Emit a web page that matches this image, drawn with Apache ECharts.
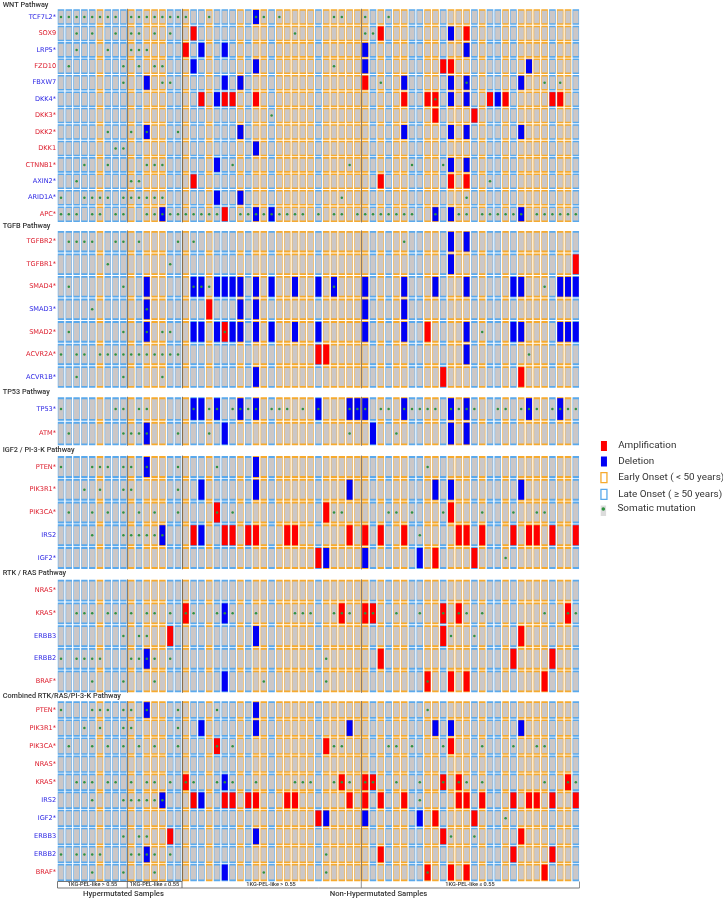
<!DOCTYPE html>
<html><head><meta charset="utf-8">
<script src="https://cdn.jsdelivr.net/npm/echarts@6/dist/echarts.min.js"></script>
<style>html,body{margin:0;padding:0;background:#fff}#c{width:723px;height:900px}</style>
</head><body><div id="c"></div>
<script>
const sampleCount = 67;
const lateOnsetSamples = [0,1,2,3,4,6,7,8,10,14,15,17,18,20,21,22,24,27,33,40,42,45,46,49,53,55,56,58,63,66];
const groupBoundaries = [8.5, 15.5, 38.5];
const legendNames = ['Amplification','Deletion','Early Onset ( < 50 years)','Late Onset ( ≥ 50 years)','Somatic mutation'];
const blueGenes = ['TCF7L2*','LRP5*','FBXW7','DKK4*','AXIN2*','ARID1A*','SMAD3*','ACVR1B*','TP53*','IRS2','IGF2*','ERBB3','ERBB2'];

const wntGenes = ['TCF7L2*','SOX9','LRP5*','FZD10','FBXW7','DKK4*','DKK3*','DKK2*','DKK1','CTNNB1*','AXIN2*','ARID1A*','APC*'];
const wntAmp = [[],[17,41,52],[16],[49,50],[39],[18,21,22,25,44,47,48,55,57,63,64],[48,53],[],[],[],[17,41,50,52],[],[21]];
const wntDel = [[25],[50],[18,21,39,52],[17,25,39,60],[11,21,23,44,50,52,59],[20,50,52,56],[],[11,23,44,50,52,59],[25],[20,50,52],[],[20,23],[13,25,27,48,50,59]];
const wntMut = [
 [0,1,2,3,4,5,6,7,9,10,11,12,13,14,15,16,19,25,26,28,35,36,39,42],
 [2,4,7,9,10,12,14,30,39,40],
 [2,6,9,10,11],
 [1,8,10,12,13,35],
 [8,13,14,41,52,62,64],
 [48],
 [27],
 [6,9,11,15],
 [7,8],
 [3,6,11,12,13,22,37,45,49],
 [2,9,10,55],
 [0,3,4,5,6,8,9,10,11,12,13,36,52],
 [0,1,2,4,5,7,8,11,12,13,14,15,16,17,18,19,20,23,24,25,26,27,28,29,30,31,33,35,36,38,39,40,41,42,43,44,45,48,51,52,54,55,56,57,58,59,61,62,63,64,65,66]
];

const tgfbGenes = ['TGFBR2*','TGFBR1*','SMAD4*','SMAD3*','SMAD2*','ACVR2A*','ACVR1B*'];
const tgfbAmp = [[],[66],[],[19],[21,47],[33,34],[49,59]];
const tgfbDel = [[50,52],[50],[11,17,18,20,21,22,23,25,27,30,33,35,39,44,48,52,58,59,64,65,66],[11,23,25,39,44],[11,17,18,20,22,23,25,27,30,33,39,44,52,58,59,64,65,66],[52],[25]];
const tgfbMut = [
 [1,2,3,4,7,8,10,15,17,44],
 [6,14],
 [1,8,17,18,19,35,62],
 [4,11],
 [1,8,11,13,14,21,54],
 [0,2,3,5,6,7,8,9,10,11,12,13,14,15,60],
 [2,8,13]
];

const tp53Genes = ['TP53*','ATM*'];
const tp53Amp = [[],[]];
const tp53Del = [[17,18,20,23,25,33,37,38,39,44,50,52,60,64],[11,21,40,50,52]];
const tp53Mut = [
 [0,7,8,10,11,17,19,20,22,23,24,25,27,28,29,31,33,37,38,39,41,42,44,45,46,47,48,50,51,52,53,56,57,59,60,61,63,64,65,66],
 [1,8,9,10,11,15,19,37,43]
];

const igfGenes = ['PTEN*','PIK3R1*','PIK3CA*','IRS2','IGF2*'];
const igfAmp = [[],[],[20,34,50],[17,21,22,24,25,29,30,37,39,41,44,51,52,54,58,60,61,63,66],[33,48,53]];
const igfDel = [[11,25],[18,25,37,48,50,59],[],[13,18],[34,39,46]];
const igfMut = [
 [0,4,5,6,8,9,11,15,20,47],
 [3,5,8,9,15],
 [1,4,6,8,10,12,15,20,22,35,36,42,43,45,49,54,58,61,62],
 [4,8,9,10,11,12,13,46],
 [57]
];

const rtkGenes = ['NRAS*','KRAS*','ERBB3','ERBB2','BRAF*'];
const rtkAmp = [[],[16,36,39,40,49,51,65],[14,49,59],[41,58,63],[47,50,52,62]];
const rtkDel = [[],[21],[25],[11],[21]];
const rtkMut = [
 [],
 [2,3,4,6,7,9,11,12,14,16,17,20,21,22,25,30,31,32,35,36,37,39,40,43,46,49,51,52,54,62,65,66],
 [8,10,11,50,53],
 [0,2,3,4,5,9,10,11,12,14,34],
 [4,8,12,26,34,47]
];

const combinedGenes = ['PTEN*','PIK3R1*','PIK3CA*','NRAS*','KRAS*','IRS2','IGF2*','ERBB3','ERBB2','BRAF*'];

// layout of each pathway panel, in page pixels
const panels = [
 {genes:wntGenes, amp:wntAmp, del:wntDel, mut:wntMut, top:8.8, pitch:16.43, box:14, title:'WNT Pathway', titleY:6},
 {genes:tgfbGenes, amp:tgfbAmp, del:tgfbDel, mut:tgfbMut, top:230.4, pitch:22.55, box:19.7, title:'TGFB Pathway', titleY:227},
 {genes:tp53Genes, amp:tp53Amp, del:tp53Del, mut:tp53Mut, top:396.8, pitch:24.5, box:21.7, title:'TP53 Pathway', titleY:393},
 {genes:igfGenes, amp:igfAmp, del:igfDel, mut:igfMut, top:455.6, pitch:22.75, box:20, title:'IGF2 / PI-3-K Pathway', titleY:451},
 {genes:rtkGenes, amp:rtkAmp, del:rtkDel, mut:rtkMut, top:579.3, pitch:22.7, box:20, title:'RTK / RAS Pathway', titleY:574},
];
const lookup = {};
[panels[3],panels[4]].forEach(p=>p.genes.forEach((g,i)=>{lookup[g]={amp:p.amp[i],del:p.del[i],mut:p.mut[i]};}));
panels.push({genes:combinedGenes, amp:combinedGenes.map(g=>lookup[g].amp), del:combinedGenes.map(g=>lookup[g].del), mut:combinedGenes.map(g=>lookup[g].mut),
 top:701, pitch:18.05, box:15.7, title:'Combined RTK/RAS/PI-3-K Pathway', titleY:697});

const C = {amp:'#ff0000', del:'#0000f5', early:'#f6aa2e', late:'#5aa9ec', cell:'#cbc7c7', mut:'#2f9240', red:'#dc1a2a', blue:'#2c26e4', head:'#333'};
const LEFT = 57.1, CELL = 7.8;
const grids=[], xAxes=[], yAxes=[], series=[], graphic=[];
const textFont = 'Roboto';

panels.forEach((p,gi)=>{
  grids.push({left:LEFT, top:p.top, width:CELL*sampleCount, height:p.pitch*p.genes.length, containLabel:false});
  xAxes.push({type:'value', gridIndex:gi, min:-0.5, max:sampleCount-0.5, show:false});
  yAxes.push({type:'category', gridIndex:gi, inverse:true, data:p.genes,
    axisLine:{show:false}, axisTick:{show:false}, splitLine:{show:false},
    axisLabel:{margin:1, interval:0, fontFamily:'"DejaVu Sans"', fontSize:6.6,
      color:(v)=>blueGenes.includes(v)?C.blue:C.red}});
  const early=[], late=[];
  p.genes.forEach((g,r)=>{for(let s=0;s<sampleCount;s++){(lateOnsetSamples.includes(s)?late:early).push([s,r]);}});
  const flat = (lists)=>lists.flatMap((l,r)=>l.map(s=>[s,r]));
  const base={type:'scatter', xAxisIndex:gi, yAxisIndex:gi, animation:false, silent:true, progressive:0, large:false};
  series.push({...base,name:legendNames[2],data:early,symbol:'rect',symbolSize:[5.9,p.box],itemStyle:{color:C.cell,borderColor:C.early,borderWidth:1,opacity:1},z:2});
  series.push({...base,name:legendNames[3],data:late,symbol:'rect',symbolSize:[5.9,p.box],itemStyle:{color:C.cell,borderColor:C.late,borderWidth:1,opacity:1},z:3});
  series.push({...base,name:legendNames[0],data:flat(p.amp),symbol:'rect',symbolSize:[6,p.box],itemStyle:{color:C.amp,opacity:1},z:4});
  series.push({...base,name:legendNames[1],data:flat(p.del),symbol:'rect',symbolSize:[6,p.box],itemStyle:{color:C.del,opacity:1},z:5});
  series.push({...base,name:legendNames[4],data:flat(p.mut),symbol:'circle',symbolSize:2.5,itemStyle:{color:C.mut,opacity:1},z:6,
    markLine:{silent:true,symbol:'none',animation:false,label:{show:false},lineStyle:{color:'rgba(70,50,30,0.8)',width:0.8,type:'solid'},data:groupBoundaries.map(x=>({xAxis:x}))}});
  graphic.push({type:'text',left:2.7,top:p.titleY-4.5,z:20,silent:true,style:{text:p.title,fontFamily:textFont,fontSize:7.3,fontWeight:500,fill:C.head}});
});

// sample-group bracket under the last panel
const bracket=(x1,y1,x2,y2,c)=>({type:'line',silent:true,z:20,shape:{x1,y1,x2,y2},style:{stroke:c||'#555',lineWidth:0.8}});
graphic.push(bracket(57.5,881.5,182,881.5), bracket(57.5,888,579.5,888), bracket(57.5,881.5,57.5,888), bracket(127.3,881.5,127.3,888), bracket(182,881.5,182,888), bracket(361.3,881.5,361.3,888,'#777'), bracket(579.5,881.5,579.5,888,'#777'));
const bracketLabel=(text,x,y,size,weight,c)=>({type:'text',silent:true,z:21,style:{text,x,y,align:'center',verticalAlign:'middle',fontFamily:textFont,fontSize:size,fontWeight:weight,fill:c||'#333'}});
graphic.push(bracketLabel('1KG-PEL-like > 0.55',92.5,885,5.6,500), bracketLabel('1KG-PEL-like ≤ 0.55',154.5,885,5.6,500), bracketLabel('1KG-PEL-like > 0.55',271,885,5.6,500), bracketLabel('1KG-PEL-like ≤ 0.55',470,885,5.6,500));
graphic.push(bracketLabel('Hypermutated Samples',123.5,894.5,7.7,500), bracketLabel('Non-Hypermutated Samples',378.5,894.5,7.7,500));
// grey swatch behind the mutation key
graphic.push({type:'rect',silent:true,z:0,shape:{x:600.7,y:505.5,width:5.4,height:10.5},style:{fill:'#dcdcdc'}});

const legendText={fontFamily:'Roboto',fontSize:9.9,color:'#333'};
const option={
  backgroundColor:'#fff', animation:false, grid:grids, xAxis:xAxes, yAxis:yAxes, series, graphic,
  tooltip:{show:false},
  legend:[
   {orient:'vertical',left:600.3,top:441,padding:0,itemWidth:6,itemHeight:10,itemGap:5.5,selectedMode:false,textStyle:{...legendText,padding:[1,0,0,6.2]},
    data:[
     {name:legendNames[0],icon:'rect',itemStyle:{color:C.amp,borderWidth:0}},
     {name:legendNames[1],icon:'rect',itemStyle:{color:C.del,borderWidth:0}},
     {name:legendNames[2],icon:'rect',itemStyle:{color:'#fff',borderColor:C.early,borderWidth:1.3}},
     {name:legendNames[3],icon:'rect',itemStyle:{color:'#fff',borderColor:C.late,borderWidth:1.3}}]},
   {orient:'vertical',left:601.5,top:504,padding:0,itemWidth:3.6,itemHeight:4,selectedMode:false,textStyle:{...legendText,padding:[6,0,0,7.4]},
    data:[{name:legendNames[4],icon:'circle',itemStyle:{color:C.mut,borderWidth:0}}]}
  ]
};
echarts.init(document.getElementById('c'),null,{renderer:'canvas'}).setOption(option);
</script></body></html>
